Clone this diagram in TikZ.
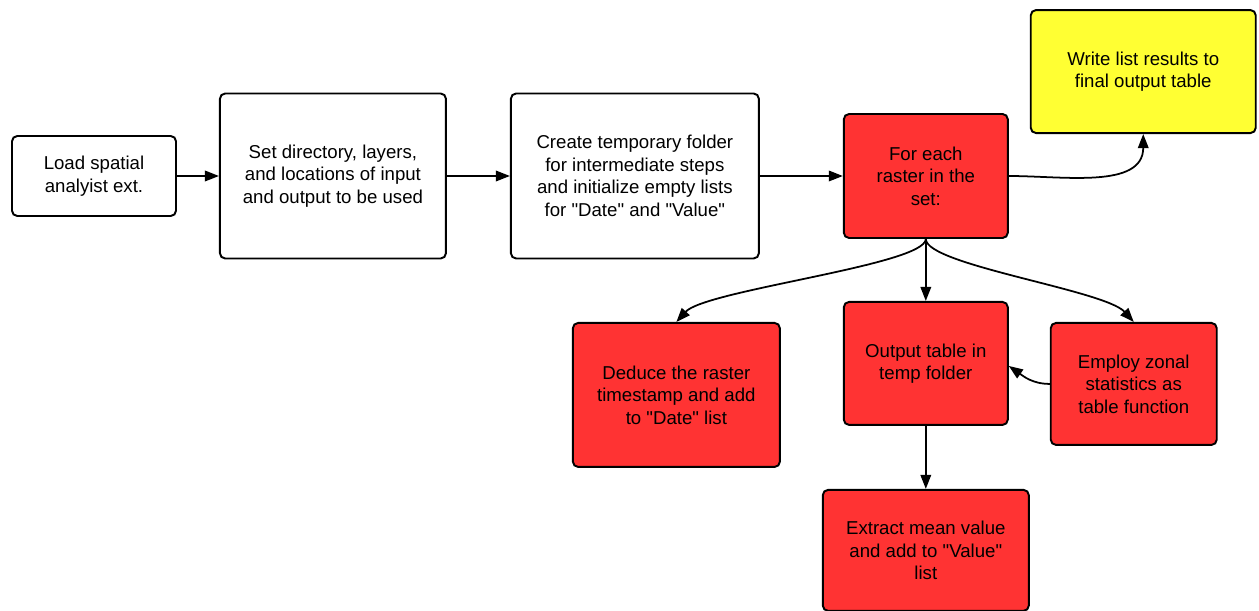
\documentclass[tikz,border=0pt]{standalone}
\usepackage{fontspec}
\setmainfont{Liberation Sans}[Ligatures=TeXOff]
\usetikzlibrary{positioning,arrows.meta}
\definecolor{StepRed}{RGB}{255,51,51}
\definecolor{StepYellow}{RGB}{255,255,51}
\tikzset{
  flow/.style={-{Triangle[length=8pt,width=6pt]},line width=1pt,draw=black},
  box/.style={draw=black,fill=white,line width=1.1pt,rounded corners=3pt,
    align=center,inner sep=0pt,font=\fontsize{10.6}{12.8}\selectfont},
  redbox/.style={box,fill=StepRed},
  yellowbox/.style={box,fill=StepYellow}
}
\begin{document}
\begin{tikzpicture}[node distance=0.84cm]
  \useasboundingbox (0,0) rectangle (25.18,-12.22);
  \node[box,minimum width=3.28cm,minimum height=1.6cm] (load) at (1.88,-3.52) {
    Load spatial\\analyist ext.
  };
  \node[box,right=0.84cm of load,minimum width=4.52cm,minimum height=3.3cm] (setdir) {
    Set directory, layers,\\and locations of input\\and output to be used
  };
  \node[box,right=1.26cm of setdir,minimum width=4.96cm,minimum height=3.3cm] (tempdir) {
    Create temporary folder\\for intermediate steps\\and initialize empty lists\\for "Date" and "Value"
  };
  \node[redbox,right=1.66cm of tempdir,minimum width=3.28cm,minimum height=2.48cm] (foreach) {
    For each\\raster in the\\set:
  };
  \node[yellowbox,above right=-0.42cm and 0.42cm of foreach,minimum width=4.5cm,minimum height=2.46cm] (writeout) {
    Write list results to\\final output table
  };
  \node[redbox,below left=1.66cm and 1.24cm of foreach,minimum width=4.14cm,minimum height=2.88cm] (deduce) {
    Deduce the raster\\timestamp and add\\to "Date" list
  };
  \node[redbox,below=1.24cm of foreach,minimum width=3.28cm,minimum height=2.46cm] (outtable) {
    Output table in\\temp folder
  };
  \node[redbox,below right=1.66cm and 0.82cm of foreach,minimum width=3.32cm,minimum height=2.44cm] (zonal) {
    Employ zonal\\statistics as\\table function
  };
  \node[redbox,below=1.26cm of outtable,minimum width=4.12cm,minimum height=2.42cm] (extract) {
    Extract mean value\\and add to "Value"\\list
  };
  \draw[flow] (load) -- (setdir);
  \draw[flow] (setdir) -- (tempdir);
  \draw[flow] (tempdir) -- (foreach);
  \draw[flow] (foreach.east) to[out=0,in=-90] (writeout.south);
  \draw[flow] (foreach.south) .. controls +(0,-0.52) and +(0.58,0.64) .. (deduce.north);
  \draw[flow] (foreach.south) -- (outtable.north);
  \draw[flow] (foreach.south) .. controls +(0,-0.52) and +(-0.58,0.64) .. (zonal.north);
  \draw[flow] (zonal.west) to[out=180,in=-35] ([yshift=-0.05cm]outtable.east);
  \draw[flow] (outtable) -- (extract);
\end{tikzpicture}
\end{document}
